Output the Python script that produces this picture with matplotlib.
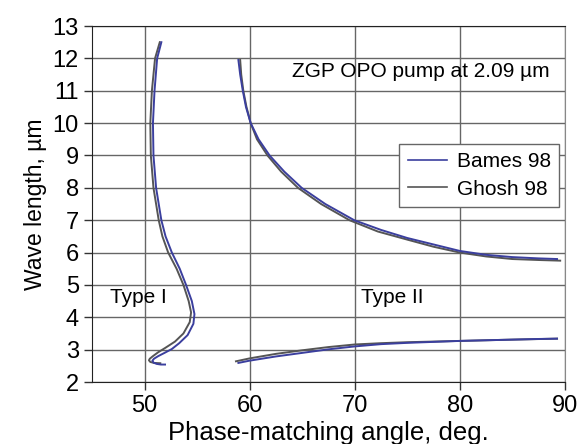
import matplotlib
matplotlib.use("Agg")
import matplotlib.pyplot as plt

plt.rcParams['font.family'] = ['Liberation Sans', 'DejaVu Sans']

BLUE = "#3b3f9e"
GRAY = "#555555"

# Type I (angle, wavelength), top to bottom
bames_t1_angle = [51.6, 51.2, 50.95, 50.8, 50.85, 51.1, 51.6, 52.0, 52.6, 53.35, 53.95,
                  54.5, 54.75, 54.65, 54.1, 53.3, 52.6, 51.9, 51.3, 50.9, 50.75, 50.85,
                  51.15, 51.55, 51.95]
bames_t1_wl = [12.5, 12.0, 11.0, 10.0, 9.0, 8.0, 7.0, 6.5, 6.0, 5.5, 5.0,
               4.5, 4.1, 3.8, 3.45, 3.2, 3.02, 2.9, 2.8, 2.72, 2.66, 2.6,
               2.56, 2.54, 2.54]
ghosh_t1_angle = [51.45, 51.0, 50.7, 50.55, 50.6, 50.85, 51.35, 51.7, 52.25, 53.05, 53.7,
                  54.2, 54.43, 54.3, 53.7, 52.9, 51.95, 51.3, 50.8, 50.5, 50.42, 50.55,
                  50.9, 51.5]
ghosh_t1_wl = [12.5, 12.0, 11.0, 10.0, 9.0, 8.0, 7.0, 6.5, 6.0, 5.5, 5.0,
               4.5, 4.15, 3.85, 3.5, 3.25, 3.05, 2.92, 2.8, 2.72, 2.67, 2.62,
               2.59, 2.58]

# Type II upper branch
bames_t2u_angle = [58.93, 59.1, 59.35, 59.65, 60.1, 60.85, 61.9, 63.3, 64.95, 67.2, 69.95,
                   72.5, 75.0, 77.5, 80.0, 82.5, 85.0, 87.5, 89.25]
bames_t2u_wl = [11.95, 11.5, 11.0, 10.5, 10.0, 9.5, 9.0, 8.5, 8.0, 7.5, 7.0,
                6.7, 6.45, 6.25, 6.05, 5.93, 5.86, 5.82, 5.8]
ghosh_t2u_angle = [59.1, 59.2, 59.4, 59.7, 60.1, 60.7, 61.7, 63.0, 64.6, 66.8, 69.5,
                   72.2, 75.0, 77.5, 80.0, 82.5, 85.0, 87.5, 89.55]
ghosh_t2u_wl = [11.95, 11.5, 11.0, 10.5, 10.0, 9.5, 9.0, 8.5, 8.0, 7.5, 7.0,
                6.65, 6.4, 6.18, 6.0, 5.88, 5.8, 5.77, 5.75]

# Type II lower branch
bames_t2l_angle = [58.93, 60.0, 62.5, 65.0, 67.5, 70.0, 72.5, 75.0, 77.5, 80.0, 82.5, 85.0, 87.5, 89.25]
bames_t2l_wl = [2.59, 2.66, 2.79, 2.9, 3.01, 3.1, 3.17, 3.21, 3.24, 3.27, 3.29, 3.31, 3.33, 3.34]
ghosh_t2l_angle = [58.7, 60.0, 62.5, 65.0, 67.5, 70.0, 72.5, 75.0, 77.5, 80.0, 85.0, 89.25]
ghosh_t2l_wl = [2.64, 2.73, 2.87, 2.98, 3.08, 3.16, 3.2, 3.23, 3.25, 3.27, 3.31, 3.34]

fig = plt.figure(figsize=(5.8, 4.44), dpi=100)
ax = fig.add_axes([0.1586, 0.1396, 0.8154, 0.8018])

lw = 1.4
ax.plot(ghosh_t1_angle, ghosh_t1_wl, color=GRAY, lw=lw)
ax.plot(ghosh_t2u_angle, ghosh_t2u_wl, color=GRAY, lw=lw)
ax.plot(ghosh_t2l_angle, ghosh_t2l_wl, color=GRAY, lw=lw)
ax.plot(bames_t1_angle, bames_t1_wl, color=BLUE, lw=lw)
ax.plot(bames_t2u_angle, bames_t2u_wl, color=BLUE, lw=lw)
ax.plot(bames_t2l_angle, bames_t2l_wl, color=BLUE, lw=lw)

# legend proxies
h1, = ax.plot([], [], color=BLUE, lw=1.2, label="Bames 98")
h2, = ax.plot([], [], color=GRAY, lw=1.2, label="Ghosh 98")
leg = ax.legend(handles=[h1, h2], loc="upper right", bbox_to_anchor=(0.988, 0.669),
                fontsize=15, fancybox=False, framealpha=1, edgecolor="#666666",
                handlelength=1.9, handletextpad=0.45, borderpad=0.4, labelspacing=0.4,
                borderaxespad=0)
leg.get_frame().set_linewidth(1.0)

ax.text(64.0, 11.58, "ZGP OPO pump at 2.09 µm", fontsize=15, va="center", ha="left")
ax.text(46.7, 4.61, "Type I", fontsize=15, va="center", ha="left")
ax.text(70.6, 4.61, "Type II", fontsize=15, va="center", ha="left")

ax.set_xlim(45, 90)
ax.set_ylim(2, 13)
ax.set_xticks([50, 60, 70, 80, 90])
ax.set_yticks(range(2, 14))
ax.tick_params(labelsize=17, direction="out", length=6, width=1, color="#333333")
ax.grid(True, color="#666666", lw=1)
ax.set_axisbelow(True)

for side in ["left", "bottom", "top"]:
    ax.spines[side].set_color("#222222")
ax.spines["right"].set_color("#888888")

ax.set_xlabel("Phase-matching angle, deg.", fontsize=18.5, labelpad=3)
ax.set_ylabel("Wave length, µm", fontsize=16.5, labelpad=4)

fig.savefig("out.png", dpi=100)
